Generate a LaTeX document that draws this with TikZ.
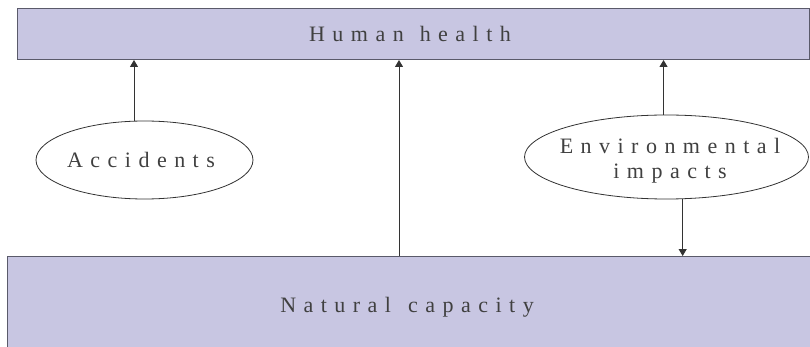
\documentclass[tikz,border=0pt]{standalone}
\usepackage{fontspec}
\setmainfont{Liberation Serif}
\newfontfamily\spacedfont[LetterSpace=34]{Liberation Serif}
\usetikzlibrary{shapes.geometric,arrows.meta}
\definecolor{boxfill}{HTML}{C8C6E2}
\definecolor{boxline}{HTML}{5A5A6A}
\definecolor{txt}{HTML}{404040}
\definecolor{arrline}{HTML}{333333}
\tikzset{
  lbl/.style={font=\spacedfont\fontsize{22}{25}\selectfont, text=txt},
  bigbox/.style={draw=boxline, fill=boxfill, line width=1pt, inner sep=0pt, lbl},
  ell/.style={draw=arrline, line width=0.8pt, ellipse, inner sep=0pt},
  arr/.style={draw=arrline, line width=1pt, -{Triangle[width=8pt,length=7pt]}}
}
\begin{document}
\begin{tikzpicture}[x=1pt,y=-1pt]
\useasboundingbox (0,0) rectangle (810,347);
\fill[white] (0,0) rectangle (810,347);
\node[bigbox, minimum width=792.5pt, minimum height=50.5pt] (hh) at (413.25,34.25) {\kern-6.5pt Human\kern16pt health};
\node[bigbox, minimum width=804pt, minimum height=102pt] (nc) at (409,307.5) {\kern-4pt Natural\kern4pt\ capacity};
\node[ell, minimum width=217pt, minimum height=78pt,
      label={[lbl, xshift=-3.5pt]center:Accidents}] (acc) at (144.5,160) {};
\node[ell, minimum width=284pt, minimum height=84pt,
      label={[lbl, align=center, xshift=3.5pt, yshift=-4pt]center:Environmental\\impacts}] (env) at (666.5,157) {};
\draw[arr] (acc.105) -- (acc.105 |- hh.south);
\draw[arr] (env.94) -- (env.94 |- hh.south);
\draw[arr] ([xshift=-10pt]nc.north) -- ([xshift=-10pt]nc.north |- hh.south);
\draw[arr] (env.-69) -- (env.-69 |- nc.north);
\end{tikzpicture}
\end{document}
